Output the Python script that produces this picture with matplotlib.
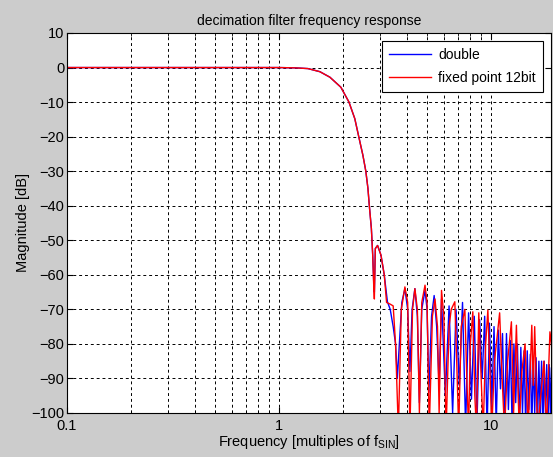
import numpy as np
import matplotlib
matplotlib.use("Agg")
import matplotlib.pyplot as plt
from matplotlib.ticker import LogLocator, FixedLocator, NullFormatter

plt.rcParams['font.family'] = ['Liberation Sans', 'DejaVu Sans']
plt.rcParams['mathtext.fontset'] = 'custom'
plt.rcParams['mathtext.rm'] = 'Liberation Sans'
plt.rcParams['mathtext.it'] = 'Liberation Sans'

# transition band, shared by both curves
trans_f = [0.1, 0.3, 0.6, 1.0, 1.2, 1.37, 1.56, 1.74, 1.96, 2.14, 2.28, 2.38,
           2.49, 2.57, 2.63, 2.67, 2.73, 2.77]
trans_db = [0, 0, 0, 0, -0.1, -0.3, -1.2, -2.8, -5.7, -10, -14.8, -20,
            -25.4, -30, -35, -40, -46.6, -54.3]

# double precision response (stopband)
double_f = [2.80, 2.82, 2.85, 2.92, 3.03, 3.14, 3.25, 3.35, 3.46, 3.55, 3.62,
            3.70, 3.80, 3.93, 4.05, 4.15, 4.25, 4.38, 4.50, 4.60, 4.72, 4.89,
            5.00, 5.10, 5.25, 5.40, 5.55, 5.70, 5.85, 6.10, 6.35, 6.60, 6.85,
            7.10, 7.35, 7.60, 7.85, 8.10, 8.35, 8.60, 8.85, 9.10, 9.35, 9.60,
            9.85, 10.1, 10.35, 10.6, 10.85, 11.1, 11.35, 11.6, 11.85, 12.1,
            12.35, 12.6, 12.85, 13.1, 13.35, 13.6, 13.85, 14.1, 14.35, 14.6,
            14.85, 15.1, 15.35, 15.6, 15.85, 16.1, 16.35, 16.6, 16.85, 17.1,
            17.35, 17.6, 17.85, 18.1, 18.35, 18.6, 18.85, 19.1, 19.3]
double_db = [-62, -65, -52.4, -51.5, -54.3, -60, -67.8, -70, -75, -80, -90,
             -80, -68, -64, -70, -88, -70, -64, -72, -97, -70, -64.5,
             -70, -94, -72, -66, -75, -92, -67, -95, -69, -100, -70,
             -92, -68, -104, -71, -96, -72, -103, -73, -90, -72, -105,
             -74, -98, -75, -104, -76, -93, -77, -105, -77, -99, -79,
             -104, -80, -97, -80, -105, -81, -100, -82, -104, -82, -99,
             -83, -105, -84, -100, -84, -104, -85, -101, -85, -105, -85,
             -100, -86, -104, -86, -101, -87]

# fixed point 12bit response (stopband)
fixed_f = [2.80, 2.82, 2.85, 2.92, 3.03, 3.14, 3.22, 3.35, 3.46, 3.55, 3.66,
           3.78, 3.93, 4.05, 4.15, 4.27, 4.38, 4.50, 4.60, 4.72, 4.89, 5.00,
           5.12, 5.30, 5.45, 5.60, 5.70, 5.85, 6.00, 6.15, 6.35, 6.50, 6.76,
           6.90, 7.05, 7.25, 7.54, 7.70, 7.85, 8.00, 8.22, 8.40, 8.55, 8.77,
           9.00, 9.20, 9.45, 9.68, 9.90, 10.1, 10.4, 10.7, 11.0, 11.3, 11.6,
           12.0, 12.5, 12.8, 13.2, 13.6, 14.0, 14.5, 15.0, 15.6, 15.85, 16.1,
           16.6, 17.2, 17.8, 18.3, 19.0, 19.3]
fixed_db = [-63, -67, -52.4, -51.5, -54.3, -60, -68, -68.5, -69, -80, -105,
            -70, -63.5, -68, -105, -70, -64, -70, -100, -68, -63, -68,
            -105, -72, -67, -75, -100, -64.5, -72, -105, -75, -70, -67.8,
            -85, -105, -75, -70, -90, -105, -80, -70.7, -95, -105, -71,
            -90, -105, -80, -70.2, -88, -105, -85, -78, -71, -90, -105,
            -85, -73.6, -100, -74.6, -105, -88, -80, -105, -74.6, -92, -75,
            -105, -95, -85, -105, -76.5, -80]

f_double = trans_f + double_f
db_double = trans_db + double_db
f_fixed = trans_f + fixed_f
db_fixed = trans_db + fixed_db

fig = plt.figure(figsize=(5.53, 4.57), dpi=100, facecolor='#cccccc')
ax = fig.add_axes([0.1212, 0.0963, 0.875, 0.8315])
ax.set_facecolor('white')

ax.plot(f_double, db_double, color='#0000ff', linewidth=1.0, label='double')
ax.plot(f_fixed, db_fixed, color='#ff0000', linewidth=1.0, label='fixed point 12bit')

ax.set_xscale('log')
ax.set_xlim(0.1, 19.2)
ax.set_ylim(-100, 10)
ax.xaxis.set_major_locator(FixedLocator([0.1, 1, 10]))
ax.xaxis.set_major_formatter(plt.FixedFormatter(['0.1', '1', '10']))
ax.xaxis.set_minor_locator(LogLocator(base=10, subs=np.arange(2, 10)))
ax.xaxis.set_minor_formatter(NullFormatter())
ax.set_yticks(np.arange(-100, 11, 10))

ax.grid(True, which='both', axis='x', color='black', linestyle=(0, (3, 3)), linewidth=0.7)
ax.grid(True, which='major', axis='y', color='black', linestyle=(0, (3, 3)), linewidth=0.7)

ax.tick_params(which='both', direction='in', top=True, right=True, labelsize=10.5,
               colors='black')
ax.tick_params(axis='y', pad=2)
ax.tick_params(axis='x', pad=4)
ax.tick_params(which='major', length=4)
ax.tick_params(which='minor', length=2.5)
for s in ax.spines.values():
    s.set_linewidth(0.8)

ax.set_title('decimation filter frequency response', fontsize=10, pad=6)
ax.set_xlabel('Frequency [multiples of f$_\\mathrm{SIN}$]', fontsize=10.5, labelpad=0)
ax.set_ylabel('Magnitude [dB]', fontsize=10.5, labelpad=1)

leg = ax.legend(loc='upper right', fontsize=10, fancybox=False, framealpha=1,
                edgecolor='black', borderaxespad=0.6, handlelength=3.0,
                labelspacing=0.6, borderpad=0.5, handletextpad=0.5)
leg.get_frame().set_linewidth(0.8)

fig.savefig('out.png', dpi=100, facecolor=fig.get_facecolor())
